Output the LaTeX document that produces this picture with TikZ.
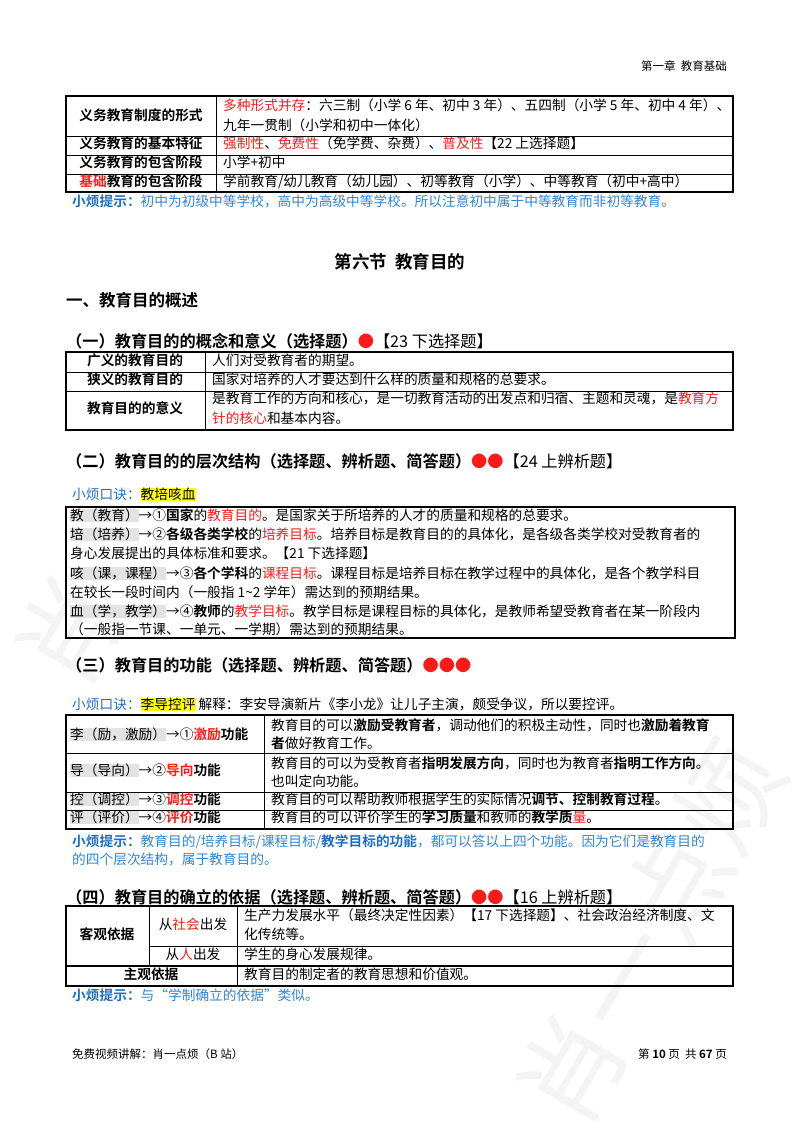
\documentclass[tikz,border=0pt]{standalone}
\usepackage{fontspec}
\setmainfont{Noto Sans CJK SC}[BoldFont=Noto Sans CJK SC Bold]
\definecolor{tred}{HTML}{FF1A1A}
\definecolor{tblue}{HTML}{2E86D6}
\definecolor{tblued}{HTML}{1F6FC0}
\definecolor{hly}{HTML}{FFFF00}
\newcommand\gb[1]{{\setlength{\fboxsep}{0pt}\colorbox{gray!22}{#1}}}
\newcommand\yb[1]{{\setlength{\fboxsep}{0pt}\colorbox{hly}{#1}}}
\newcommand\R[1]{\textcolor{tred}{#1}}
\begin{document}
\begin{tikzpicture}[x=1pt,y=-1pt,
  txt/.style={anchor=west,inner sep=0pt,font=\fontsize{13.7}{16}\selectfont,text height=10pt,text depth=3pt},
  ctxt/.style={txt,anchor=center},
  bctxt/.style={ctxt,font=\fontsize{13.7}{16}\selectfont\bfseries},
  head/.style={anchor=west,inner sep=0pt,font=\fontsize{16.2}{19}\selectfont\bfseries},
  tip/.style={txt,text=tblue},
  outer/.style={line width=1.6pt},
  inner/.style={line width=0.6pt},
  wm/.style={text=gray!9,font=\fontsize{105}{105}\selectfont,inner sep=0pt}]
\useasboundingbox (0,0) rectangle (800,1132);
% watermark
\node[wm,rotate=60] (w1) at (70,630) {肖};
\node[wm,rotate=60,anchor=west] (w2) at (545,1115) {肖一点烦};
% header
\node[txt,anchor=east,font=\fontsize{11.5}{13}\selectfont] (hd) at (727,67) {第一章\ \ 教育基础};
% table 1
\draw[outer] (66,96) rectangle (733,192);
\draw[inner] (66,136) -- (733,136) (66,155) -- (733,155) (66,174) -- (733,174) (216,96) -- (216,192);
\node[bctxt] (t1a) at (141,117) {义务教育制度的形式};
\node[bctxt] (t1b) at (141,145) {义务教育的基本特征};
\node[bctxt] (t1c) at (141,164) {义务教育的包含阶段};
\node[bctxt] (t1d) at (141,183) {\R{基础}教育的包含阶段};
\node[txt] (t1e) at (223,107) {\R{多种形式并存}：六三制（小学 6 年、初中 3 年）、五四制（小学 5 年、初中 4 年）、};
\node[txt] (t1f) at (223,127) {九年一贯制（小学和初中一体化）};
\node[txt] (t1g) at (223,145) {\R{强制性}、\R{免费性}（免学费、杂费）、\R{普及性}【22 上选择题】};
\node[txt] (t1h) at (223,164) {小学+初中};
\node[txt] (t1i) at (223,183) {学前教育/幼儿教育（幼儿园）、初等教育（小学）、中等教育（初中+高中）};
\node[tip] (tp1) at (72,203) {\textbf{\textcolor{tblued}{小烦提示：}}初中为初级中等学校，高中为高级中等学校。所以注意初中属于中等教育而非初等教育。};
% section
\node[anchor=center,inner sep=0pt,font=\fontsize{17.5}{20}\selectfont\bfseries] (sec) at (400,262) {第六节\ \ 教育目的};
\node[head,font=\fontsize{16.5}{19}\selectfont\bfseries] (h1) at (66,300) {一、教育目的概述};
\node[head] (h11) at (66,341) {（一）教育目的的概念和意义（选择题）\R{●}\mdseries【23 下选择题】};
% table 2
\draw[outer] (66,352) rectangle (733,430);
\draw[inner] (66,372) -- (733,372) (66,391) -- (733,391) (205,352) -- (205,430);
\node[bctxt] (t2a) at (135,362) {广义的教育目的};
\node[bctxt] (t2b) at (135,381) {狭义的教育目的};
\node[bctxt] (t2c) at (135,410) {教育目的的意义};
\node[txt] (t2d) at (212,362) {人们对受教育者的期望。};
\node[txt] (t2e) at (212,381) {国家对培养的人才要达到什么样的质量和规格的总要求。};
\node[txt] (t2f) at (212,400) {是教育工作的方向和核心，是一切教育活动的出发点和归宿、主题和灵魂，是\R{教育方}};
\node[txt] (t2g) at (212,420) {\R{针的核心}和基本内容。};
% (二)
\node[head] (h12) at (66,461) {（二）教育目的的层次结构（选择题、辨析题、简答题）\R{●●}\mdseries【24 上辨析题】};
\node[txt] (kj1) at (72,496) {\textcolor{tblued}{小烦口诀：}\yb{教培咳血}};
\draw[outer] (66,507) rectangle (735,638);
\node[txt] (b1) at (70,517) {\gb{教（教育）}→①\textbf{国家}的\R{教育目的}。是国家关于所培养的人才的质量和规格的总要求。};
\node[txt] (b2) at (70,536) {\gb{培（培养）}→②\textbf{各级各类学校}的\R{培养目标}。培养目标是教育目的的具体化，是各级各类学校对受教育者的};
\node[txt] (b3) at (70,555) {身心发展提出的具体标准和要求。【21 下选择题】};
\node[txt] (b4) at (70,575) {\gb{咳（课，课程）}→③\textbf{各个学科}的\R{课程目标}。课程目标是培养目标在教学过程中的具体化，是各个教学科目};
\node[txt] (b5) at (70,594) {在较长一段时间内（一般指 1\textasciitilde 2 学年）需达到的预期结果。};
\node[txt] (b6) at (70,613) {\gb{血（学，教学）}→④\textbf{教师}的\R{教学目标}。教学目标是课程目标的具体化，是教师希望受教育者在某一阶段内};
\node[txt] (b7) at (70,631) {（一般指一节课、一单元、一学期）需达到的预期结果。};
% (三)
\node[head] (h13) at (66,665) {（三）教育目的功能（选择题、辨析题、简答题）\R{●●●}};
\node[txt] (kj2) at (72,706) {\textcolor{tblued}{小烦口诀：}\yb{李导控评}\ 解释：李安导演新片《李小龙》让儿子主演，颇受争议，所以要控评。};
\draw[outer] (66,715) rectangle (733,829);
\draw[inner] (66,753) -- (733,753) (66,792) -- (733,792) (66,810) -- (733,810) (264,715) -- (264,829);
\node[txt] (f1) at (70,736) {\gb{李（励，激励）}→①\textbf{\R{激励}功能}};
\node[txt] (f2) at (70,772) {\gb{导（导向）}→②\textbf{\R{导向}功能}};
\node[txt] (f3) at (70,801) {\gb{控（调控）}→③\textbf{\R{调控}功能}};
\node[txt] (f4) at (70,819) {\gb{评（评价）}→④\textbf{\R{评价}功能}};
\node[txt] (g1) at (271,727) {教育目的可以\textbf{激励受教育者}，调动他们的积极主动性，同时也\textbf{激励着教育}};
\node[txt] (g2) at (271,745) {\textbf{者}做好教育工作。};
\node[txt] (g3) at (271,765) {教育目的可以为受教育者\textbf{指明发展方向}，同时也为教育者\textbf{指明工作方向}。};
\node[txt] (g4) at (271,783) {也叫定向功能。};
\node[txt] (g5) at (271,801) {教育目的可以帮助教师根据学生的实际情况\textbf{调节、控制教育过程}。};
\node[txt] (g6) at (271,819) {教育目的可以评价学生的\textbf{学习质量}和教师的\textbf{教学质}\R{量}。};
\node[tip] (tp2) at (72,843) {\textbf{\textcolor{tblued}{小烦提示：}}教育目的/培养目标/课程目标/\textbf{\textcolor{tblued}{教学目标的功能}}，都可以答以上四个功能。因为它们是教育目的};
\node[tip] (tp3) at (72,861) {的四个层次结构，属于教育目的。};
% (四)
\node[head] (h14) at (66,897) {（四）教育目的确立的依据（选择题、辨析题、简答题）\R{●●}\mdseries【16 上辨析题】};
\draw[outer] (66,906) rectangle (733,986);
\draw[inner] (149,946) -- (733,946) (149,906) -- (149,966) (237,906) -- (237,986);
\draw[line width=1.6pt] (66,966) -- (733,966);
\node[bctxt] (k1) at (107,936) {客观依据};
\node[ctxt] (k2) at (193,926) {从\R{社会}出发};
\node[ctxt] (k3) at (193,956) {从\R{人}出发};
\node[bctxt] (k4) at (151,976) {主观依据};
\node[txt] (k5) at (244,917) {生产力发展水平（最终决定性因素）【17 下选择题】、社会政治经济制度、文};
\node[txt] (k6) at (244,936) {化传统等。};
\node[txt] (k7) at (244,956) {学生的身心发展规律。};
\node[txt] (k8) at (244,976) {教育目的制定者的教育思想和价值观。};
\node[tip] (tp4) at (72,997) {\textbf{\textcolor{tblued}{小烦提示：}}与“学制确立的依据”类似。};
% footer
\node[txt,font=\fontsize{11.5}{13}\selectfont] (ft1) at (72,1055) {免费视频讲解：肖一点烦（B 站）};
\node[txt,anchor=east,font=\fontsize{11.5}{13}\selectfont] (ft2) at (727,1055) {第\ \textbf{10}\ 页\ \ 共\ \textbf{67}\ 页};
\end{tikzpicture}
\end{document}
